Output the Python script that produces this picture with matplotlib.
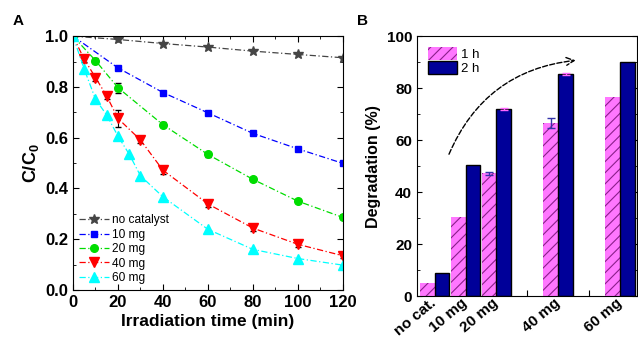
import numpy as np
import matplotlib
matplotlib.use('Agg')
import matplotlib.pyplot as plt
import matplotlib.transforms as mtransforms
from matplotlib.patches import Patch

plt.rcParams['font.family'] = ['Liberation Sans', 'DejaVu Sans']
plt.rcParams['mathtext.fontset'] = 'custom'
plt.rcParams['mathtext.rm'] = 'Liberation Sans'
plt.rcParams['mathtext.bf'] = 'Liberation Sans:bold'
plt.rcParams['hatch.linewidth'] = 0.8

# panel A data: C/C0 vs irradiation time
t_nocat = [0, 20, 40, 60, 80, 100, 120]
c_nocat = [1.0, 0.987, 0.971, 0.957, 0.941, 0.928, 0.915]
t_10 = [0, 20, 40, 60, 80, 100, 120]
c_10 = [1.0, 0.875, 0.778, 0.698, 0.617, 0.556, 0.499]
t_20 = [0, 10, 20, 40, 60, 80, 100, 120]
c_20 = [1.0, 0.904, 0.797, 0.651, 0.534, 0.436, 0.350, 0.286]
e_20 = [0, 0.01, 0.02, 0.01, 0.01, 0.008, 0.008, 0.008]
t_40 = [0, 5, 10, 15, 20, 30, 40, 60, 80, 100, 120]
c_40 = [1.0, 0.909, 0.837, 0.764, 0.676, 0.591, 0.472, 0.339, 0.244, 0.180, 0.135]
e_40 = [0, 0.012, 0.012, 0.012, 0.035, 0.012, 0.015, 0.012, 0.012, 0.012, 0.01]
t_60 = [0, 5, 10, 15, 20, 25, 30, 40, 60, 80, 100, 120]
c_60 = [1.0, 0.870, 0.752, 0.689, 0.606, 0.535, 0.450, 0.367, 0.239, 0.160, 0.124, 0.098]

# panel B data: degradation (%)
doses = ['no cat.', '10 mg', '20 mg', '40 mg', '60 mg']
dose_pos = [0, 1, 2, 4, 6]
deg_1h = [5.0, 30.5, 47.2, 66.5, 76.5]
err_1h = [0, 0, 0.5, 2.0, 0]
deg_2h = [9.0, 50.3, 72.0, 85.5, 90.0]
err_2h = [0, 0, 0.3, 0.3, 0]

fig = plt.figure(figsize=(6.38, 3.38), dpi=100)
axA = fig.add_axes([0.1144, 0.142, 0.423, 0.751])
axB = fig.add_axes([0.6536, 0.124, 0.345, 0.769])

ls = (0, (5, 2, 1, 2))


def with_err(ax, t, c, e, **kw):
    # line + markers, then black error bars only where error is non zero
    line, = ax.plot(t, c, **kw)
    t_e = [ti for ti, ei in zip(t, e) if ei > 0]
    c_e = [ci for ci, ei in zip(c, e) if ei > 0]
    e_e = [ei for ei in e if ei > 0]
    ax.errorbar(t_e, c_e, yerr=e_e, fmt='none', ecolor='black', elinewidth=0.8,
                capsize=2.5, zorder=1.9)
    return line


axA.plot(t_nocat, c_nocat, ls=ls, color='#454545', marker='*', ms=7, lw=0.9, label='no catalyst')
axA.plot(t_10, c_10, ls=ls, color='#0000ff', marker='s', ms=5, lw=0.9, label='10 mg')
with_err(axA, t_20, c_20, e_20, ls=ls, color='#00dd00', marker='o', ms=5.5, lw=0.9, label='20 mg')
with_err(axA, t_40, c_40, e_40, ls=ls, color='#ff0000', marker='v', ms=7, lw=0.9, label='40 mg')
axA.plot(t_60, c_60, ls=ls, color='#00ffff', marker='^', ms=7, lw=0.9, label='60 mg')

axA.set_xlim(0, 120)
axA.set_ylim(0, 1.0)
axA.set_xticks(range(0, 121, 20))
axA.set_xticks(range(0, 121, 10), minor=True)
axA.set_yticks(np.arange(0, 1.01, 0.2))
axA.set_yticks(np.arange(0, 1.01, 0.1), minor=True)
axA.set_yticklabels(['0.0', '0.2', '0.4', '0.6', '0.8', '1.0'])
axA.tick_params(which='both', direction='in', top=True, right=True, labelsize=12)
axA.tick_params(which='major', length=4)
axA.tick_params(which='minor', length=2)
for lab in axA.get_xticklabels() + axA.get_yticklabels():
    lab.set_fontweight('bold')
axA.set_xlabel('Irradiation time (min)', fontsize=12.5, fontweight='bold', labelpad=3)
axA.set_ylabel(r'C/C$_\mathbf{0}$', fontsize=13, fontweight='bold', labelpad=3)
axA.legend(loc='lower left', frameon=False, fontsize=8.6, handlelength=2.5,
           handletextpad=0.3, labelspacing=0.2, borderaxespad=0.3, borderpad=0.2)
fig.text(13 / 638, 1 - 21 / 338, 'A', fontsize=11, fontweight='bold', va='center')

# panel B bars
w = 0.48
pos1 = [p - w / 2 for p in dose_pos]
pos2 = [p + w / 2 for p in dose_pos]
axB.bar(pos1, deg_1h, width=w, color='#ff77ff', edgecolor='#8a1f8a', linewidth=0,
        hatch='///', zorder=2)
axB.bar(pos2, deg_2h, width=w, color='#000099', edgecolor='black', linewidth=1.0, zorder=2)
for p, v, e in zip(pos1, deg_1h, err_1h):
    if e > 0:
        axB.errorbar(p, v, yerr=e, fmt='none', ecolor='#3333aa', elinewidth=1,
                     capsize=3, zorder=3)
for p, v, e in zip(pos2, deg_2h, err_2h):
    if e > 0:
        axB.errorbar(p, v, yerr=e, fmt='none', ecolor='#ff66ff', elinewidth=1,
                     capsize=3, zorder=3)
axB.set_axisbelow(True)
axB.set_xlim(-0.57, 6.55)
axB.set_ylim(0, 100)
axB.set_xticks(range(0, 7))
axB.set_xticklabels(['no cat.', '10 mg', '20 mg', '', '40 mg', '', '60 mg'],
                    rotation=40, ha='right', va='center', rotation_mode='anchor',
                    fontsize=10, fontweight='bold')
shift = mtransforms.ScaledTranslation(8 / 100, 0, fig.dpi_scale_trans)
for lab in axB.get_xticklabels():
    lab.set_transform(lab.get_transform() + shift)
axB.set_yticks(range(0, 101, 20))
axB.set_yticks(range(0, 101, 10), minor=True)
axB.tick_params(which='both', direction='in', top=True, right=True, labelsize=11)
axB.tick_params(axis='x', which='both', top=False, length=4, pad=4)
axB.tick_params(which='minor', length=2)
for lab in axB.get_yticklabels():
    lab.set_fontweight('bold')
axB.set_ylabel('Degradation (%)', fontsize=11.5, fontweight='bold', labelpad=4)
handles = [Patch(facecolor='#ff77ff', edgecolor='#8a1f8a', hatch='///', linewidth=0),
           Patch(facecolor='#000099', edgecolor='black', linewidth=1.0)]
axB.legend(handles, ['1 h', '2 h'], loc='upper left', frameon=False, fontsize=9.5,
           handlelength=2.2, handleheight=1.15, handletextpad=0.3, labelspacing=0.0,
           borderaxespad=0.5, borderpad=0.3)
axB.annotate('', xy=(4.65, 90.8), xytext=(0.43, 53.6),
             arrowprops=dict(arrowstyle='->', ls='--', lw=1.0, color='black',
                             connectionstyle='arc3,rad=-0.3', mutation_scale=14))
fig.text(357 / 638, 1 - 21 / 338, 'B', fontsize=11, fontweight='bold', va='center')

fig.savefig('out.png', dpi=100)
